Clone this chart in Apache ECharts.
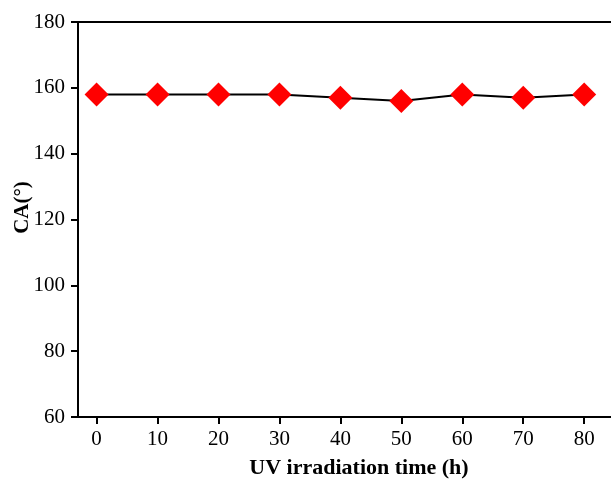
<!DOCTYPE html>
<html><head><meta charset="utf-8">
<script src="https://cdn.jsdelivr.net/npm/echarts@6/dist/echarts.min.js"></script>
<style>html,body{margin:0;padding:0;background:#fff}#c{width:611px;height:479px}</style>
</head><body><div id="c"></div>
<script>
var times = [0, 10, 20, 30, 40, 50, 60, 70, 80];
var ca = [158, 158, 158, 158, 157, 156, 158, 157, 158];
var xTicks = [0, 10, 20, 30, 40, 50, 60, 70, 80];

var chart = echarts.init(document.getElementById('c'));
var font = '"Liberation Serif","Times New Roman",serif';
chart.setOption({
  backgroundColor: '#fff',
  animation: false,
  grid: {left: 78, top: 22, right: 0, bottom: 62, containLabel: false, outerBoundsMode: 'none'},
  xAxis: [{
    type: 'value', min: -3.05, max: 84.4, position: 'bottom',
    name: 'UV irradiation time (h)', nameLocation: 'middle', nameGap: 40,
    nameTextStyle: {fontFamily: font, fontWeight: 'bold', fontSize: 22, color: '#000', padding: [0, 0, 0, 29]},
    axisLine: {show: true, onZero: false, lineStyle: {color: '#000', width: 2}},
    axisTick: {show: true, inside: false, length: 7, lineStyle: {color: '#000', width: 2}, customValues: xTicks},
    axisLabel: {fontFamily: font, fontSize: 21, color: '#000', margin: 12, customValues: xTicks},
    splitLine: {show: false}
  }, {
    type: 'value', min: -3.05, max: 84.4, position: 'top',
    axisLine: {show: true, onZero: false, lineStyle: {color: '#000', width: 2}},
    axisTick: {show: false}, axisLabel: {show: false}, splitLine: {show: false}
  }],
  yAxis: {
    type: 'value', min: 60, max: 180, interval: 20,
    name: 'CA(°)', nameLocation: 'middle', nameGap: 45, nameRotate: 90, nameMoveOverlap: false,
    nameTextStyle: {fontFamily: font, fontWeight: 'bold', fontSize: 21, color: '#000', padding: [0, 0, 0, 24]},
    axisLine: {show: true, onZero: false, lineStyle: {color: '#000', width: 2}},
    axisTick: {show: true, inside: false, length: 7, lineStyle: {color: '#000', width: 2}},
    axisLabel: {fontFamily: font, fontSize: 21, color: '#000', margin: 13},
    splitLine: {show: false}
  },
  series: [{
    type: 'line',
    data: times.map(function (t, i) { return [t, ca[i]]; }),
    symbol: 'diamond', symbolSize: [24, 24],
    itemStyle: {color: '#ff0000'},
    lineStyle: {color: '#000', width: 2}
  }]
});
</script></body></html>
